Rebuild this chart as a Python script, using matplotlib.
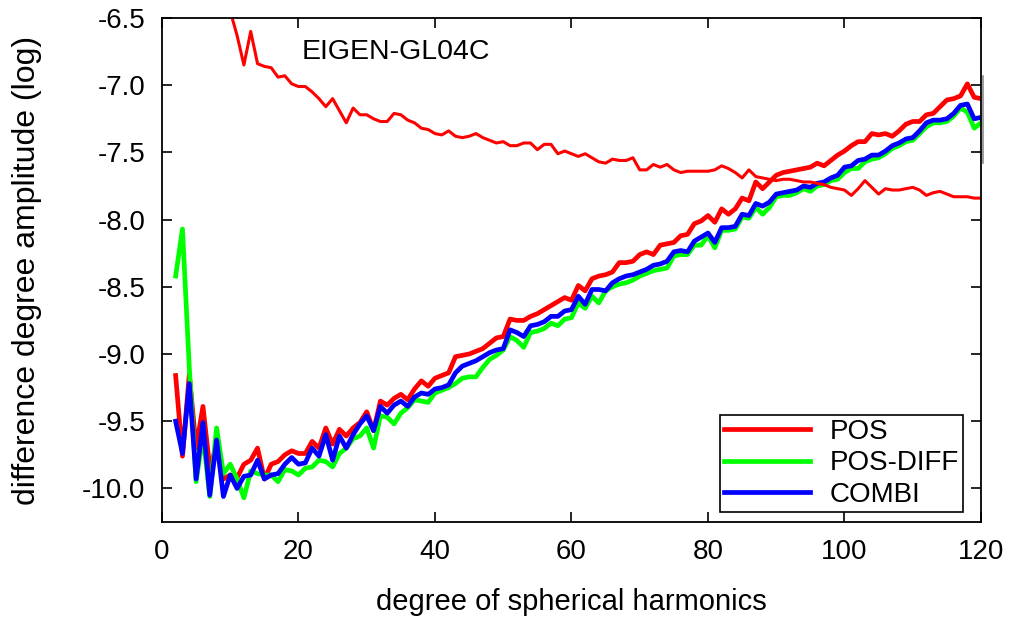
import matplotlib
matplotlib.use("Agg")
import matplotlib.pyplot as plt
import numpy as np

plt.rcParams['font.family'] = ['Liberation Sans', 'DejaVu Sans']
plt.rcParams['axes.unicode_minus'] = False

# spherical harmonic degree 2..120
degree = list(range(2, 121))

# difference degree amplitudes (log10)
pos = [-9.16, -9.76, -9.15, -9.70, -9.39, -9.85, -9.68, -9.93, -9.90,
       -9.92, -9.82, -9.79, -9.70, -9.93, -9.82, -9.80, -9.75, -9.72, -9.74,
       -9.74, -9.65, -9.70, -9.55, -9.67, -9.56, -9.61, -9.55, -9.51, -9.43,
       -9.57, -9.35, -9.38, -9.33, -9.30, -9.34, -9.26, -9.20, -9.24, -9.18,
       -9.16, -9.14, -9.02, -9.01, -9.00, -8.98, -8.96, -8.92, -8.88, -8.87,
       -8.74, -8.75, -8.75, -8.72, -8.70, -8.67, -8.64, -8.61, -8.58, -8.60,
       -8.49, -8.53, -8.44, -8.42, -8.41, -8.39, -8.32, -8.32, -8.31, -8.26,
       -8.24, -8.26, -8.19, -8.18, -8.17, -8.12, -8.11, -8.03, -8.01, -7.97,
       -8.02, -7.92, -7.96, -7.92, -7.84, -7.86, -7.72, -7.77, -7.72, -7.67,
       -7.65, -7.64, -7.63, -7.62, -7.61, -7.58, -7.60, -7.56, -7.52, -7.49,
       -7.45, -7.42, -7.42, -7.36, -7.37, -7.36, -7.38, -7.34, -7.29, -7.27,
       -7.27, -7.22, -7.21, -7.16, -7.11, -7.10, -7.08, -6.99, -7.09, -7.10]

pos_diff = [-8.42, -8.07, -9.10, -9.95, -9.60, -10.06, -9.55, -9.89, -9.82,
            -9.93, -10.07, -9.87, -9.89, -9.90, -9.90, -9.95, -9.86, -9.87, -9.90,
            -9.85, -9.84, -9.79, -9.80, -9.84, -9.74, -9.70, -9.63, -9.61, -9.55,
            -9.70, -9.46, -9.47, -9.52, -9.44, -9.40, -9.34, -9.35, -9.36, -9.29,
            -9.27, -9.25, -9.22, -9.18, -9.17, -9.17, -9.10, -9.04, -9.01, -8.97,
            -8.87, -8.90, -8.95, -8.84, -8.83, -8.81, -8.77, -8.79, -8.74, -8.73,
            -8.62, -8.66, -8.57, -8.62, -8.53, -8.50, -8.48, -8.47, -8.45, -8.42,
            -8.40, -8.38, -8.37, -8.36, -8.27, -8.26, -8.26, -8.19, -8.19, -8.12,
            -8.21, -8.08, -8.08, -8.07, -7.98, -7.99, -7.91, -7.96, -7.91, -7.83,
            -7.82, -7.82, -7.80, -7.77, -7.79, -7.75, -7.74, -7.71, -7.70, -7.65,
            -7.62, -7.62, -7.57, -7.55, -7.54, -7.51, -7.47, -7.45, -7.42, -7.41,
            -7.36, -7.31, -7.28, -7.28, -7.27, -7.23, -7.17, -7.20, -7.32, -7.28]

combi = [-9.50, -9.74, -9.22, -9.93, -9.51, -10.05, -9.64, -10.06, -9.90,
         -10.00, -9.91, -9.90, -9.79, -9.93, -9.90, -9.89, -9.82, -9.77, -9.82,
         -9.81, -9.70, -9.76, -9.60, -9.79, -9.61, -9.70, -9.60, -9.52, -9.46,
         -9.57, -9.39, -9.44, -9.38, -9.35, -9.39, -9.32, -9.29, -9.30, -9.26,
         -9.25, -9.23, -9.14, -9.09, -9.07, -9.05, -9.02, -8.99, -8.97, -8.96,
         -8.82, -8.84, -8.87, -8.79, -8.78, -8.76, -8.72, -8.72, -8.68, -8.67,
         -8.57, -8.63, -8.52, -8.52, -8.53, -8.47, -8.44, -8.42, -8.41, -8.39,
         -8.37, -8.34, -8.33, -8.31, -8.24, -8.23, -8.24, -8.16, -8.13, -8.10,
         -8.17, -8.06, -8.06, -8.05, -7.96, -7.97, -7.88, -7.90, -7.87, -7.81,
         -7.80, -7.79, -7.78, -7.75, -7.76, -7.73, -7.72, -7.69, -7.67, -7.61,
         -7.60, -7.56, -7.55, -7.52, -7.52, -7.49, -7.45, -7.43, -7.40, -7.39,
         -7.34, -7.28, -7.26, -7.26, -7.25, -7.21, -7.15, -7.14, -7.25, -7.24]

# EIGEN-GL04C signal degree amplitudes
eigen = [-5.30, -5.50, -5.70, -5.85, -5.95, -6.10, -6.20, -6.30, -6.45,
         -6.63, -6.85, -6.60, -6.84, -6.86, -6.87, -6.94, -6.93, -6.99, -7.01,
         -7.01, -7.05, -7.10, -7.16, -7.10, -7.19, -7.28, -7.17, -7.22, -7.22,
         -7.25, -7.27, -7.27, -7.21, -7.22, -7.26, -7.28, -7.32, -7.33, -7.36,
         -7.37, -7.34, -7.38, -7.39, -7.38, -7.36, -7.39, -7.41, -7.43, -7.42,
         -7.45, -7.45, -7.43, -7.43, -7.48, -7.44, -7.44, -7.51, -7.49, -7.51,
         -7.53, -7.51, -7.54, -7.57, -7.58, -7.55, -7.56, -7.56, -7.54, -7.63,
         -7.63, -7.59, -7.61, -7.59, -7.63, -7.65, -7.64, -7.64, -7.64, -7.64,
         -7.63, -7.60, -7.62, -7.65, -7.69, -7.63, -7.68, -7.69, -7.70, -7.71,
         -7.70, -7.70, -7.71, -7.72, -7.72, -7.73, -7.74, -7.76, -7.77, -7.78,
         -7.82, -7.77, -7.71, -7.76, -7.81, -7.77, -7.78, -7.78, -7.77, -7.76,
         -7.78, -7.82, -7.80, -7.79, -7.81, -7.83, -7.83, -7.83, -7.84, -7.84]

fig = plt.figure(figsize=(10.15, 6.2), dpi=100)
ax = fig.add_axes([0.1596, 0.158, 0.8069, 0.813])

ax.plot(degree, pos, color='#ff0000', lw=3.4, label='POS')
ax.plot(degree, pos_diff, color='#00ff00', lw=3.4, label='POS-DIFF')
ax.plot(degree, combi, color='#0000ff', lw=3.4, label='COMBI')
ax.plot(degree, eigen, color='#ff0000', lw=2.2)

ax.set_xlim(0, 120)
ax.set_ylim(-10.25, -6.5)
ax.set_xticks(np.arange(0, 121, 20))
ax.set_yticks(np.arange(-10.0, -6.49, 0.5))
ax.set_yticklabels(['%.1f' % v for v in np.arange(-10.0, -6.49, 0.5)])
ax.tick_params(direction='in', top=True, right=True, length=7.2, width=1.2,
               labelsize=20, pad=12, colors='black')
for s in ax.spines.values():
    s.set_linewidth(1.3)
    s.set_color('black')

# small grey stroke next to the right border, as in the original
ax.plot([1.003, 1.003], [0.712, 0.885], transform=ax.transAxes, clip_on=False,
        color='#8c8c8c', lw=1.2)

ax.set_xlabel('degree of spherical harmonics', fontsize=21)
ax.set_ylabel('difference degree amplitude (log)', fontsize=23)
ax.xaxis.set_label_coords(0.5, -0.13)
ax.yaxis.set_label_coords(-0.146, 0.5)

ax.text(20.5, -6.75, 'EIGEN-GL04C', fontsize=20.5, ha='left', va='center')

leg = ax.legend(loc='lower right', bbox_to_anchor=(0.978, 0.02), borderaxespad=0,
                fontsize=20, frameon=True, fancybox=False, framealpha=1,
                edgecolor='black', handlelength=3.1, handletextpad=0.7,
                labelspacing=0.2, borderpad=0.15)
leg.get_frame().set_linewidth(1.2)

fig.savefig('out.png', dpi=100)
